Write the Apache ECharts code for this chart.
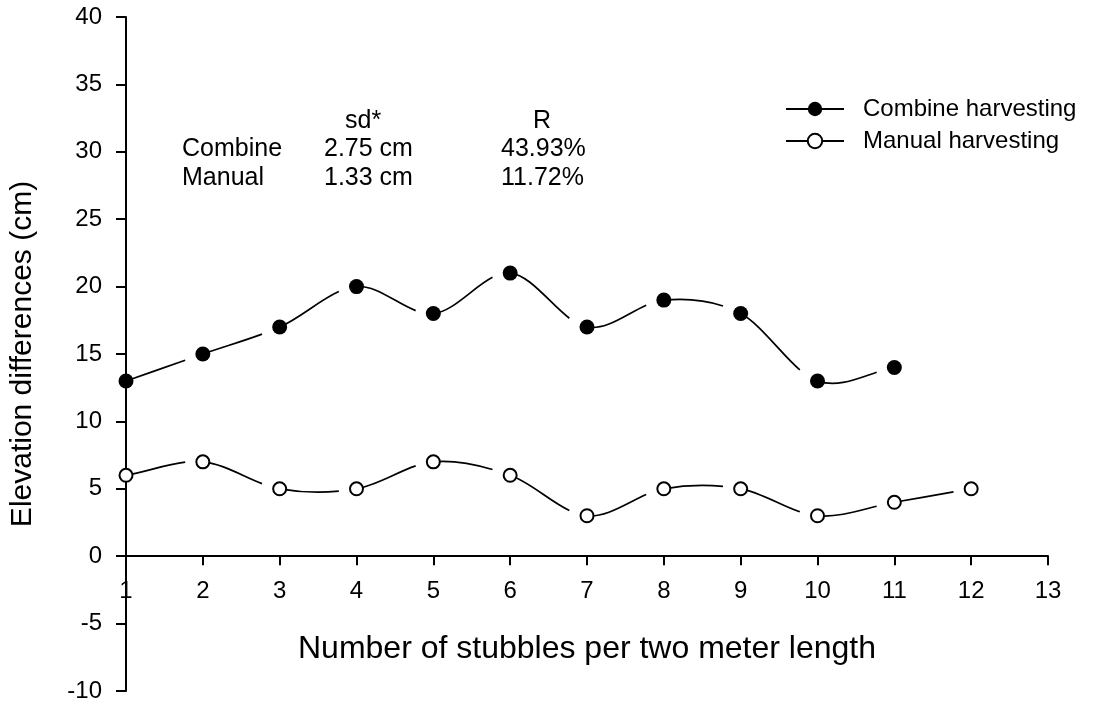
<!DOCTYPE html>
<html>
<head>
<meta charset="utf-8">
<script src="https://cdn.jsdelivr.net/npm/echarts@6/dist/echarts.min.js"></script>
<style>
html,body{margin:0;padding:0;background:#fff;}
#chart{width:1103px;height:704px;}
</style>
</head>
<body>
<div id="chart"></div>
<script>
// ---- data ----
const stubblesCombine = [1, 2, 3, 4, 5, 6, 7, 8, 9, 10, 11];
const combineValues   = [13, 15, 17, 20, 18, 21, 17, 19, 18, 13, 14];
const stubblesManual  = [1, 2, 3, 4, 5, 6, 7, 8, 9, 10, 11, 12];
const manualValues    = [6, 7, 5, 5, 7, 6, 3, 5, 5, 3, 4, 5];
const xTicks = [1, 2, 3, 4, 5, 6, 7, 8, 9, 10, 11, 12, 13];
const yTicks = [-10, -5, 0, 5, 10, 15, 20, 25, 30, 35, 40];
const seriesNames = ['Combine harvesting', 'Manual harvesting'];
const statsHeader = ['sd*', 'R'];
const statsRows = [
  ['Combine', '2.75 cm', '43.93%'],
  ['Manual', '1.33 cm', '11.72%']
];

const FONT = '"Liberation Sans", Arial, Helvetica, sans-serif';
const SEG_FRACTION = 0.77;
const GRID = { left: 126, right: 55, top: 17, bottom: 13 };
const CHART_H = 704;

function pairs(xs, ys) { return xs.map((x, i) => [x, ys[i]]); }
function lerp(a, b, t) { return [a[0] + (b[0] - a[0]) * t, a[1] + (b[1] - a[1]) * t]; }

// spline from each point toward the next, drawn only part of the way (gap before next marker)
function curveRenderer(xs, ys) {
  return function (params, api) {
    const i = params.dataIndex;
    const n = xs.length;
    if (i >= n - 1) return null;
    const P1 = api.coord([xs[i], ys[i]]);
    const P2 = api.coord([xs[i + 1], ys[i + 1]]);
    const P0 = i > 0 ? api.coord([xs[i - 1], ys[i - 1]]) : [2 * P1[0] - P2[0], 2 * P1[1] - P2[1]];
    const P3 = i + 2 < n ? api.coord([xs[i + 2], ys[i + 2]]) : [2 * P2[0] - P1[0], 2 * P2[1] - P1[1]];
    const C1 = [P1[0] + (P2[0] - P0[0]) / 6, P1[1] + (P2[1] - P0[1]) / 6];
    const C2 = [P2[0] - (P3[0] - P1[0]) / 6, P2[1] - (P3[1] - P1[1]) / 6];
    const t = SEG_FRACTION;
    const A = lerp(P1, C1, t), B = lerp(C1, C2, t), C = lerp(C2, P2, t);
    const D = lerp(A, B, t), E = lerp(B, C, t);
    const F = lerp(D, E, t);
    return {
      type: 'bezierCurve',
      shape: {
        x1: P1[0], y1: P1[1],
        cpx1: A[0], cpy1: A[1],
        cpx2: D[0], cpy2: D[1],
        x2: F[0], y2: F[1]
      },
      style: { stroke: '#000', lineWidth: 1.7, fill: null }
    };
  };
}

const chart = echarts.init(document.getElementById('chart'), null, { renderer: 'canvas' });

const graphics = [];
const hdrX = [345, 533];
statsHeader.forEach((t, k) => graphics.push({
  type: 'text', left: hdrX[k], top: 109,
  style: { text: t, font: '25px ' + FONT, fill: '#000' }
}));
const colX = [182, 324, 501];
const rowTop = [137, 166];
statsRows.forEach((row, r) => row.forEach((t, c) => graphics.push({
  type: 'text', left: colX[c], top: rowTop[r],
  style: { text: t, font: '25px ' + FONT, fill: '#000' }
})));

const yMin = yTicks[0], yMax = yTicks[yTicks.length - 1];
const gridH = CHART_H - GRID.top - GRID.bottom;
const zeroOffset = -gridH * (0 - yMin) / (yMax - yMin);

const option = {
  backgroundColor: '#fff',
  animation: false,
  grid: { left: GRID.left, right: GRID.right, top: GRID.top, bottom: GRID.bottom, containLabel: false, outerBoundsMode: 'none' },
  legend: {
    orient: 'vertical',
    left: 785, top: 97, padding: 0,
    itemWidth: 58, itemHeight: 18, itemGap: 8,
    data: seriesNames,
    textStyle: { fontFamily: FONT, fontSize: 24, color: '#000', lineHeight: 24, padding: [0, 0, 0, 14] },
    lineStyle: { color: '#000', width: 2, opacity: 1 },
    selectedMode: false
  },
  xAxis: {
    type: 'value', min: xTicks[0], max: xTicks[xTicks.length - 1], interval: 1,
    position: 'bottom', offset: zeroOffset,
    name: 'Number of stubbles per two meter length',
    nameLocation: 'middle', nameGap: 77,
    nameTextStyle: { fontFamily: FONT, fontSize: 32, color: '#000' },
    axisLine: { onZero: false, lineStyle: { color: '#000', width: 2 } },
    axisTick: { show: true, inside: false, length: 9, lineStyle: { color: '#000', width: 2 } },
    axisLabel: { fontFamily: FONT, fontSize: 24, color: '#000', margin: 23 },
    splitLine: { show: false }
  },
  yAxis: {
    type: 'value', min: yMin, max: yMax, interval: 5,
    name: 'Elevation differences (cm)',
    nameLocation: 'middle', nameGap: 88,
    nameTextStyle: { fontFamily: FONT, fontSize: 30, color: '#000' },
    axisLine: { show: true, onZero: false, lineStyle: { color: '#000', width: 2 } },
    axisTick: { show: true, inside: false, length: 10, lineStyle: { color: '#000', width: 2 } },
    axisLabel: { fontFamily: FONT, fontSize: 24, color: '#000', margin: 24 },
    splitLine: { show: false }
  },
  graphic: graphics,
  series: [
    {
      type: 'custom', name: 'combine-curve', z: 1, silent: true,
      renderItem: curveRenderer(stubblesCombine, combineValues),
      encode: { x: 0, y: 1 },
      data: pairs(stubblesCombine, combineValues)
    },
    {
      type: 'custom', name: 'manual-curve', z: 1, silent: true,
      renderItem: curveRenderer(stubblesManual, manualValues),
      encode: { x: 0, y: 1 },
      data: pairs(stubblesManual, manualValues)
    },
    {
      type: 'line', name: seriesNames[0], z: 3,
      data: pairs(stubblesCombine, combineValues),
      symbol: 'circle', symbolSize: 15,
      itemStyle: { color: '#000', borderColor: '#000', borderWidth: 0 },
      lineStyle: { opacity: 0, width: 0 }
    },
    {
      type: 'line', name: seriesNames[1], z: 3,
      data: pairs(stubblesManual, manualValues),
      symbol: 'circle', symbolSize: 13,
      itemStyle: { color: '#fff', borderColor: '#000', borderWidth: 2 },
      lineStyle: { opacity: 0, width: 0 }
    }
  ]
};
chart.setOption(option);
</script>
</body>
</html>
